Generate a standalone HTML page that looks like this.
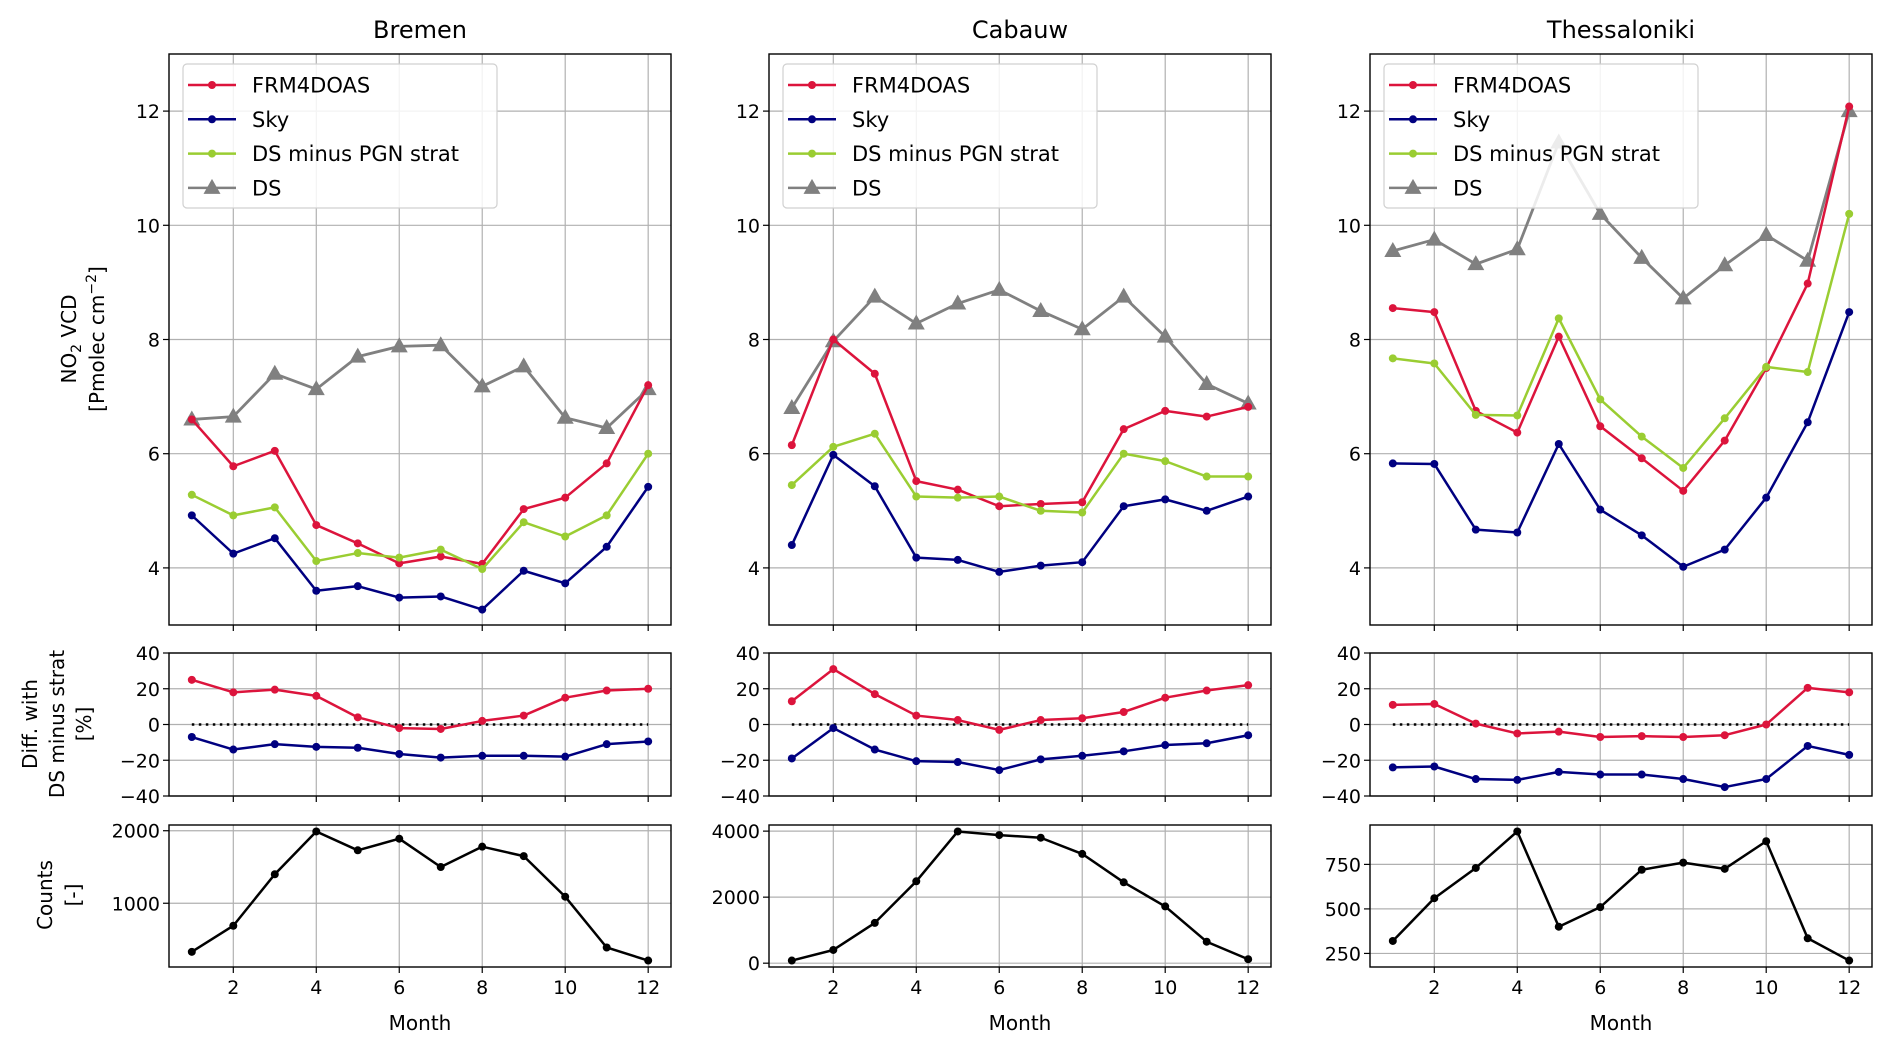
<!DOCTYPE html>
<html><head><meta charset="utf-8">
<style>
html,body{margin:0;padding:0;background:#fff;}
svg{display:block;font-family:"DejaVu Sans","Liberation Sans",sans-serif;}
</style></head>
<body>
<svg id="fig" width="1892" height="1051" viewBox="0 0 1892 1051" xmlns="http://www.w3.org/2000/svg"></svg>
<script>
const months=[1,2,3,4,5,6,7,8,9,10,11,12];
const stations=["Bremen","Cabauw","Thessaloniki"];
const frmB=[6.6,5.78,6.05,4.75,4.43,4.08,4.2,4.07,5.03,5.23,5.83,7.2];
const skyB=[4.92,4.25,4.52,3.6,3.68,3.48,3.5,3.27,3.95,3.73,4.37,5.42];
const dsmB=[5.28,4.92,5.06,4.12,4.26,4.18,4.32,3.98,4.8,4.55,4.92,6.0];
const dsB=[6.6,6.65,7.4,7.13,7.7,7.88,7.9,7.18,7.53,6.63,6.45,7.13];
const frmDiffB=[25,18,19.5,16,4,-2,-2.5,2,5,15,19,20];
const skyDiffB=[-7,-14,-11,-12.5,-13,-16.5,-18.5,-17.5,-17.5,-18,-11,-9.5];
const countsB=[330,690,1400,1990,1730,1890,1500,1780,1650,1090,390,210];
const frmC=[6.15,8.0,7.4,5.52,5.37,5.08,5.12,5.15,6.43,6.75,6.65,6.82];
const skyC=[4.4,5.98,5.43,4.18,4.14,3.93,4.04,4.1,5.08,5.2,5.0,5.25];
const dsmC=[5.45,6.12,6.35,5.25,5.23,5.25,5.0,4.97,6.0,5.87,5.6,5.6];
const dsC=[6.8,7.97,8.75,8.28,8.63,8.87,8.5,8.18,8.75,8.05,7.22,6.88];
const frmDiffC=[13,31,17,5,2.5,-3,2.5,3.5,7,15,19,22];
const skyDiffC=[-19,-2,-14,-20.5,-21,-25.5,-19.5,-17.5,-15,-11.5,-10.5,-6];
const countsC=[80,400,1220,2480,3990,3880,3800,3310,2450,1720,650,120];
const frmT=[8.55,8.48,6.75,6.37,8.05,6.48,5.92,5.35,6.23,7.5,8.98,12.08];
const skyT=[5.83,5.82,4.67,4.62,6.17,5.02,4.57,4.02,4.32,5.23,6.55,8.48];
const dsmT=[7.67,7.58,6.68,6.67,8.37,6.95,6.3,5.75,6.62,7.52,7.43,10.2];
const dsT=[9.55,9.75,9.32,9.58,11.45,10.2,9.43,8.72,9.3,9.83,9.38,12.0];
const frmDiffT=[11,11.5,0.5,-5,-4,-7,-6.5,-7,-6,0,20.5,18];
const skyDiffT=[-24,-23.5,-30.5,-31,-26.5,-28,-28,-30.5,-35,-30.5,-12,-17];
const countsT=[320,560,730,935,400,510,720,760,725,880,335,210];
const topTicks=[4,6,8,10,12];
const diffTicks=[-40,-20,0,20,40];
const countTicksB=[1000,2000];
const countTicksC=[0,2000,4000];
const countTicksT=[250,500,750];
const xTicks=[2,4,6,8,10,12];
const seriesNames=["FRM4DOAS","Sky","DS minus PGN strat","DS"];

const data=[
 {frm:frmB,sky:skyB,dsm:dsmB,ds:dsB,fd:frmDiffB,sd:skyDiffB,cnt:countsB,ct:countTicksB},
 {frm:frmC,sky:skyC,dsm:dsmC,ds:dsC,fd:frmDiffC,sd:skyDiffC,cnt:countsC,ct:countTicksC},
 {frm:frmT,sky:skyT,dsm:dsmT,ds:dsT,fd:frmDiffT,sd:skyDiffT,cnt:countsT,ct:countTicksT}
];
const COL={frm:"#dc143c",sky:"#000080",dsm:"#9acd32",ds:"#808080"};
const svg=document.getElementById('fig');
const NS="http://www.w3.org/2000/svg";
function mk(tag,attrs,parent){const e=document.createElementNS(NS,tag);for(const k in attrs)e.setAttribute(k,attrs[k]);(parent||svg).appendChild(e);return e;}
function txt(s,attrs,parent){const e=mk('text',attrs,parent);e.textContent=s;return e;}

const panelX=[169,769,1370], PW=502;
const rows={top:[54,625],mid:[653,796],bot:[825,967]};
const xMin=0.45,xMax=12.55;
function xs(i){const x0=panelX[i];return v=>x0+(v-xMin)/(xMax-xMin)*PW;}
function ysF(row,lo,hi){const[t,b]=rows[row];return v=>b-(v-lo)/(hi-lo)*(b-t);}

function axesFrame(i,row,yTicks,ys,name,showXLabels){
  const g=mk('g',{});
  
  
  const[t,b]=rows[row];const x0=panelX[i],X=xs(i);
  xTicks.forEach(m=>{const l=mk('line',{x1:X(m),x2:X(m),y1:t,y2:b,stroke:'#b0b0b0','stroke-width':1.2},g);
    mk('line',{x1:X(m),x2:X(m),y1:b,y2:b+6,stroke:'#000','stroke-width':1.2},g);
    if(showXLabels){const tl=txt(String(m),{x:X(m),y:b+27,'font-size':19,'text-anchor':'middle',fill:'#000'},g);}
  });
  yTicks.forEach(v=>{const y=ys(v);const l=mk('line',{x1:x0,x2:x0+PW,y1:y,y2:y,stroke:'#b0b0b0','stroke-width':1.2},g);
    mk('line',{x1:x0-6,x2:x0,y1:y,y2:y,stroke:'#000','stroke-width':1.2},g);
    const lbl=(v<0?'\u2212'+Math.abs(v):String(v));
    const tl=txt(lbl,{x:x0-9,y:y+7,'font-size':19,'text-anchor':'end',fill:'#000'},g);
  });
  return g;
}
function frameRect(i,row){const[t,b]=rows[row];const r=mk('rect',{x:panelX[i],y:t,width:PW,height:b-t,fill:'none',stroke:'#000','stroke-width':1.4});}
function line(i,vals,ys,color,w,name,marker){
  const X=xs(i);const g=mk('g',{});
  
  
  const pts=months.map((m,k)=>X(m)+','+ys(vals[k])).join(' ');
  mk('polyline',{points:pts,fill:'none',stroke:color,'stroke-width':w,'stroke-linejoin':'round'},g);
  months.forEach((m,k)=>{const x=X(m),y=ys(vals[k]);
    if(marker==='tri'){const p=mk('polygon',{points:`${x},${y-9} ${x-8.5},${y+6} ${x+8.5},${y+6}`,fill:color},g);}
    else{const c=mk('circle',{cx:x,cy:y,r:4,fill:color},g);}
  });
}

for(let i=0;i<3;i++){
  const d=data[i],X=xs(i);
  const tt=txt(stations[i],{x:panelX[i]+PW/2,y:38,'font-size':24,'text-anchor':'middle',fill:'#000'});
  
  
  const yT=ysF('top',3,13);
  axesFrame(i,'top',topTicks,yT,'vcd-axes',false);
  line(i,d.ds,yT,COL.ds,2.8,'ds-series','tri');
  line(i,d.frm,yT,COL.frm,2.5,'frm4doas-series');
  line(i,d.sky,yT,COL.sky,2.5,'sky-series');
  line(i,d.dsm,yT,COL.dsm,2.5,'ds-minus-strat-series');
  frameRect(i,'top');
  const lg=mk('g',{});
  
  
  const lx=panelX[i]+14;
  mk('rect',{x:lx,y:64,width:314,height:144,rx:4,fill:'#fff','fill-opacity':0.85,stroke:'#d0d0d0','stroke-width':1.2},lg);
  const keys=['frm','sky','dsm','ds'];
  keys.forEach((k,j)=>{const y=85+j*34.3;
    const e=mk('g',{},lg);
    
    
    mk('line',{x1:lx+5,x2:lx+53,y1:y,y2:y,stroke:COL[k],'stroke-width':2.5},e);
    if(k==='ds')mk('polygon',{points:`${lx+29},${y-9} ${lx+20.5},${y+6} ${lx+37.5},${y+6}`,fill:COL[k]},e);
    else mk('circle',{cx:lx+29,cy:y,r:4,fill:COL[k]},e);
    txt(seriesNames[j],{x:lx+69,y:y+7.5,'font-size':21,fill:'#000'},e);
  });
  const yM=ysF('mid',-40,40);
  axesFrame(i,'mid',diffTicks,yM,'diff-axes',false);
  const z=mk('line',{x1:X(1),x2:X(12),y1:yM(0),y2:yM(0),stroke:'#000','stroke-width':2.5,'stroke-dasharray':'2.5,4.5'});
  
  
  line(i,d.fd,yM,COL.frm,2.5,'frm4doas-diff-series');
  line(i,d.sd,yM,COL.sky,2.5,'sky-diff-series');
  frameRect(i,'mid');
  const mn=Math.min(...d.cnt),mx=Math.max(...d.cnt),pad=(mx-mn)*0.05;
  const yB=ysF('bot',mn-pad,mx+pad);
  axesFrame(i,'bot',d.ct,yB,'counts-axes',true);
  line(i,d.cnt,yB,'#000',2.5,'counts-series');
  frameRect(i,'bot');
  const ml=txt('Month',{x:panelX[i]+PW/2,y:1030,'font-size':20,'text-anchor':'middle',fill:'#000'});
  
  
}
function vlabel(lines,xs0,cy,name){
  const g=mk('g',{});
  
  
  lines.forEach((s,k)=>{const t=mk('text',{x:0,y:0,'font-size':20,'text-anchor':'middle',fill:'#000',transform:`translate(${xs0[k]},${cy}) rotate(-90)`},g);t.innerHTML=s;});
}
vlabel(['NO<tspan font-size="14" dy="5">2</tspan><tspan dy="-5"> VCD</tspan>','[Pmolec cm<tspan font-size="14" dy="-8">\u22122</tspan><tspan dy="8">]</tspan>'],[76,104],339,'vcd-y-axis-title');
vlabel(['Diff. with','DS minus strat','[%]'],[37,64,91],724,'diff-y-axis-title');
vlabel(['Counts','[-]'],[52,80],895,'counts-y-axis-title');
</script>
</body></html>
